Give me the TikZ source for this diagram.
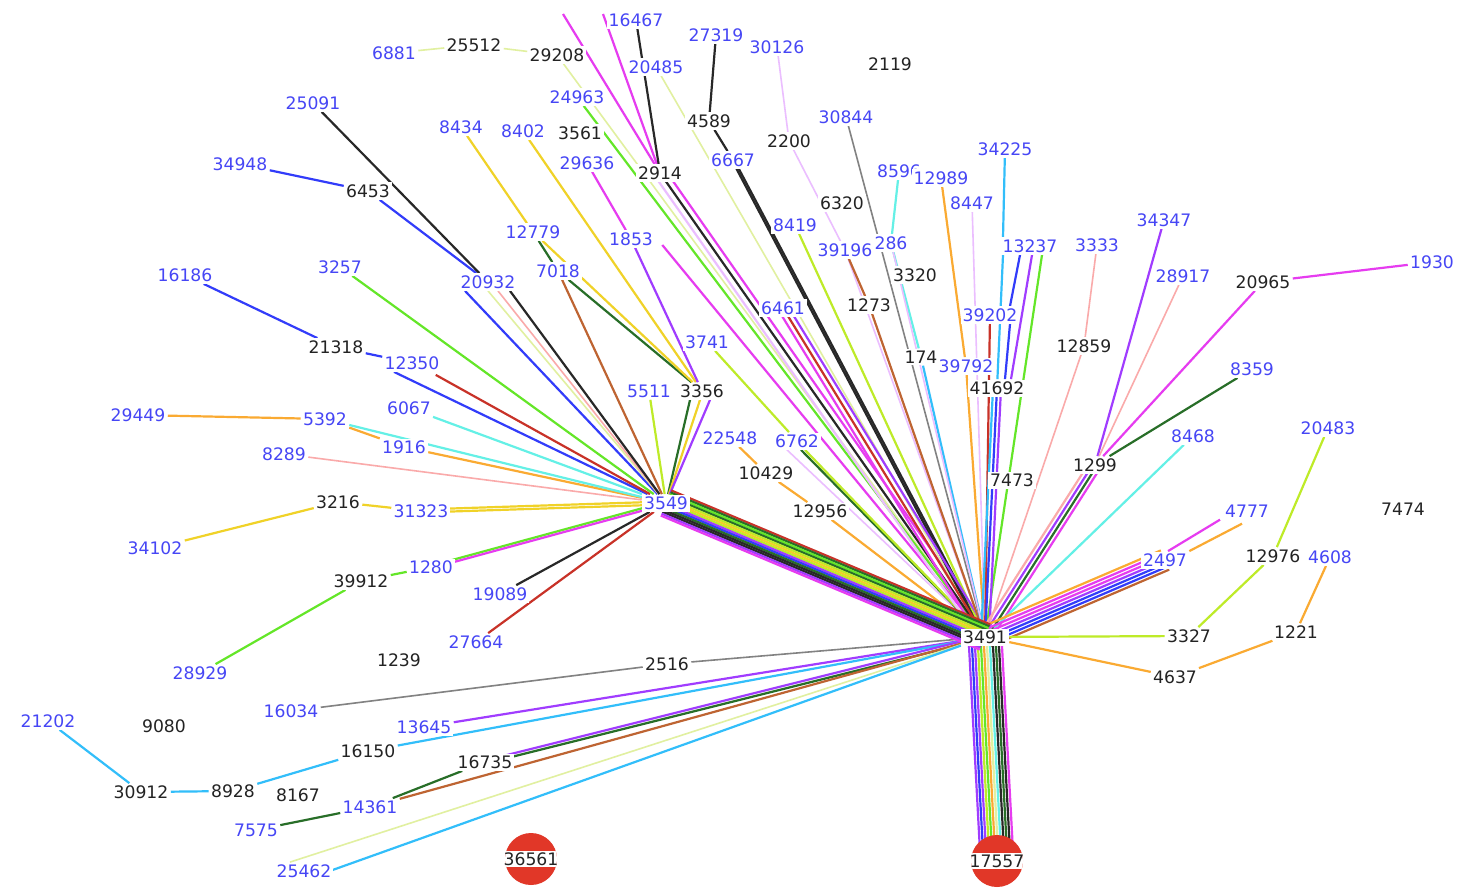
\documentclass[tikz,border=0pt]{standalone}
\usepackage{fontspec}
\setmainfont{DejaVu Sans}
\pgfdeclarelayer{back}
\pgfdeclarelayer{bg}
\pgfsetlayers{back,bg,main}
\definecolor{labB}{RGB}{70,70,245}
\definecolor{labK}{RGB}{35,35,35}
\definecolor{cMag}{RGB}{230,60,240}
\definecolor{cViolet}{RGB}{160,60,255}
\definecolor{cBlue}{RGB}{50,60,250}
\definecolor{cBlack}{RGB}{40,40,40}
\definecolor{cGray}{RGB}{130,130,130}
\definecolor{cGreen}{RGB}{100,230,40}
\definecolor{cDkGreen}{RGB}{40,110,40}
\definecolor{cChart}{RGB}{190,235,40}
\definecolor{cYellow}{RGB}{240,210,40}
\definecolor{cLtYel}{RGB}{225,240,160}
\definecolor{cOrange}{RGB}{250,170,50}
\definecolor{cBrown}{RGB}{190,100,50}
\definecolor{cRed}{RGB}{200,50,40}
\definecolor{cPink}{RGB}{250,170,170}
\definecolor{cAqua}{RGB}{100,240,230}
\definecolor{cSky}{RGB}{50,190,250}
\definecolor{cLtViolet}{RGB}{235,190,255}
\definecolor{cCirc}{RGB}{225,55,40}
\newcommand\lbf{\fontsize{8.6}{10}\selectfont}
\newcommand\bund[5]{%
  \foreach \cc [count=\nn] in {#5} {\xdef\bundn{\nn}}%
  \foreach \cc [count=\ii] in {#5} {%
    \pgfmathsetmacro\oo{\ii-(\bundn+1)/2}%
    \draw[ln,color=\cc,transform canvas={shift={({\oo*(#3)},{\oo*(#4)})}}] (#1) -- (#2);%
  }%
}
\begin{document}
\begin{tikzpicture}[x=0.5pt,y=-0.5pt,
  ln/.style={line width=1.1pt},
  lnt/.style={line width=0.8pt},
  lb/.style={fill=white,inner sep=1pt,text=labB,font=\lbf},
  lk/.style={fill=white,inner sep=1pt,text=labK,font=\lbf},
  redc/.style={circle,fill=cCirc,minimum size=26pt,inner sep=0pt}]
\useasboundingbox (0,0) rectangle (1459,888);
\begin{pgfonlayer}{back}
\fill[white] (0,0) rectangle (1459,888);
\end{pgfonlayer}
% nodes
\node[lb] (n16467) at (636,20) {16467};
\node[lb] (n27319) at (716,35) {27319};
\node[lb] (n30126) at (777,47) {30126};
\node[lk] (n2119) at (890,64) {2119};
\node[lb] (n6881) at (394,53) {6881};
\node[lk] (n25512) at (474,45) {25512};
\node[lk] (n29208) at (557,55) {29208};
\node[lb] (n20485) at (656,67) {20485};
\node[lb] (n25091) at (313,103) {25091};
\node[lb] (n24963) at (577,97) {24963};
\node[lk] (n4589) at (709,121) {4589};
\node[lb] (n30844) at (846,117) {30844};
\node[lb] (n8434) at (461,127) {8434};
\node[lb] (n8402) at (523,131) {8402};
\node[lk] (n3561) at (580,133) {3561};
\node[lk] (n2200) at (789,141) {2200};
\node[lb] (n34225) at (1005,149) {34225};
\node[lb] (n6667) at (733,160) {6667};
\node[lb] (n29636) at (587,163) {29636};
\node[lk] (n2914) at (660,173) {2914};
\node[lb] (n34948) at (240,164) {34948};
\node[lk] (n6453) at (368,191) {6453};
\node[lb] (n8596) at (899,171) {8596};
\node[lb] (n12989) at (941,178) {12989};
\node[lb] (n8447) at (972,203) {8447};
\node[lk] (n6320) at (842,203) {6320};
\node[lb] (n34347) at (1164,220) {34347};
\node[lb] (n8419) at (795,225) {8419};
\node[lb] (n12779) at (533,232) {12779};
\node[lb] (n1853) at (631,239) {1853};
\node[lb] (n39196) at (845,250) {39196};
\node[lb] (n286) at (891,243) {286};
\node[lb] (n13237) at (1030,246) {13237};
\node[lb] (n3333) at (1097,245) {3333};
\node[lb] (n1930) at (1432,262) {1930};
\node[lb] (n3257) at (340,267) {3257};
\node[lb] (n7018) at (558,271) {7018};
\node[lk] (n3320) at (915,275) {3320};
\node[lb] (n16186) at (185,275) {16186};
\node[lb] (n28917) at (1183,276) {28917};
\node[lk] (n20965) at (1263,282) {20965};
\node[lb] (n20932) at (488,282) {20932};
\node[lk] (n1273) at (869,305) {1273};
\node[lb] (n6461) at (783,308) {6461};
\node[lb] (n39202) at (990,315) {39202};
\node[lk] (n21318) at (336,347) {21318};
\node[lk] (n12859) at (1084,346) {12859};
\node[lb] (n3741) at (707,342) {3741};
\node[lk] (n174) at (921,357) {174};
\node[lb] (n39792) at (966,366) {39792};
\node[lb] (n8359) at (1252,369) {8359};
\node[lb] (n12350) at (412,363) {12350};
\node[lk] (n41692) at (997,388) {41692};
\node[lb] (n5511) at (649,391) {5511};
\node[lk] (n3356) at (702,391) {3356};
\node[lb] (n29449) at (138,415) {29449};
\node[lb] (n5392) at (325,419) {5392};
\node[lb] (n6067) at (409,408) {6067};
\node[lb] (n8289) at (284,454) {8289};
\node[lb] (n1916) at (404,447) {1916};
\node[lb] (n22548) at (730,438) {22548};
\node[lb] (n6762) at (797,441) {6762};
\node[lb] (n8468) at (1193,436) {8468};
\node[lb] (n20483) at (1328,428) {20483};
\node[lk] (n1299) at (1095,465) {1299};
\node[lk] (n10429) at (766,473) {10429};
\node[lk] (n7473) at (1012,480) {7473};
\node[lk] (n3216) at (338,502) {3216};
\node[lb] (n31323) at (421,511) {31323};
\node[lb] (n3549) at (666,503) {3549};
\node[lk] (n12956) at (820,511) {12956};
\node[lk] (n7474) at (1403,509) {7474};
\node[lb] (n4777) at (1247,511) {4777};
\node[lb] (n34102) at (155,548) {34102};
\node[lb] (n2497) at (1165,560) {2497};
\node[lk] (n12976) at (1273,556) {12976};
\node[lb] (n4608) at (1330,557) {4608};
\node[lk] (n39912) at (361,581) {39912};
\node[lb] (n1280) at (431,567) {1280};
\node[lb] (n19089) at (500,594) {19089};
\node[lk] (n3491) at (985,637) {3491};
\node[lk] (n3327) at (1189,636) {3327};
\node[lk] (n1221) at (1296,632) {1221};
\node[lb] (n27664) at (476,642) {27664};
\node[lk] (n1239) at (399,660) {1239};
\node[lk] (n2516) at (667,664) {2516};
\node[lk] (n4637) at (1175,677) {4637};
\node[lb] (n28929) at (200,673) {28929};
\node[lb] (n21202) at (48,721) {21202};
\node[lk] (n9080) at (164,726) {9080};
\node[lb] (n16034) at (291,711) {16034};
\node[lb] (n13645) at (424,727) {13645};
\node[lk] (n16150) at (368,751) {16150};
\node[lk] (n16735) at (485,762) {16735};
\node[lk] (n30912) at (141,792) {30912};
\node[lk] (n8928) at (233,791) {8928};
\node[lk] (n8167) at (298,795) {8167};
\node[lb] (n14361) at (370,807) {14361};
\node[lb] (n7575) at (256,830) {7575};
\node[lb] (n25462) at (304,871) {25462};
% red circles
\node[redc] (n36561) at (531,859) {};
\node[redc] (n17557) at (997,861) {};
\begin{scope}
\clip (n36561.center) circle (26);
\fill[white] ([shift={(-30,-8)}]n36561.center) rectangle ([shift={(30,8)}]n36561.center);
\end{scope}
\begin{scope}
\clip (n17557.center) circle (26);
\fill[white] ([shift={(-30,-8)}]n17557.center) rectangle ([shift={(30,8)}]n17557.center);
\end{scope}
\node[lk,fill=none] (n36561t) at (n36561.center) {36561};
\node[lk,fill=none] (n17557t) at (n17557.center) {17557};
\coordinate (tA) at (563,14);
\coordinate (tB) at (603,14);
% edges
\begin{pgfonlayer}{bg}
\draw[ln,cBlue] (n34948) -- (n6453);
\draw[ln,cBlue] (n6453) -- (n20932);
\draw[ln,cBlack] (n25091) -- (n20932);
\draw[ln,cBlue] ([shift={(-23,0)}]n20932.south) -- (n3549);
\draw[lnt,cLtYel] ([shift={(0,0)}]n20932.south) -- (n3549);
\draw[lnt,cPink] ([shift={(10,0)}]n20932.south) -- (n3549);
\draw[ln,cBlack] ([shift={(22,0)}]n20932.south) -- (n3549);
\draw[ln,cGreen] (n3257) -- (n3549);
\draw[ln,cBlue] (n16186) -- (n21318);
\draw[ln,cBlue] (n21318) -- (n12350);
\draw[ln,cBlue] ([shift={(-18,0)}]n12350.south) -- (n3549);
\draw[ln,cRed] ([shift={(-6,3)}]n12350.south east) -- (n3549);
\draw[ln,cAqua] (n6067) -- (n3549);
\draw[ln,cOrange] (n29449) -- (n5392);
\draw[ln,cOrange] (n5392) -- (n1916);
\draw[ln,cOrange] (n1916) -- (n3549);
\draw[ln,cAqua] (n5392) -- (n3549);
\draw[lnt,cPink] (n8289) -- (n3549);
\draw[ln,cYellow] (n34102) -- (n3216);
\draw[ln,cYellow] (n3216) -- (n31323);
\bund{n31323.center}{n3549.center}{0}{3}{cYellow,cYellow}
\draw[ln,cGreen] (n28929) -- (n39912);
\draw[ln,cGreen] (n39912) -- (n1280);
\bund{n1280.center}{n3549.center}{0}{2.5}{cGreen,cMag}
\draw[ln,cBlack] (n19089) -- (n3549);
\draw[ln,cRed] (n27664) -- (n3549);
\draw[ln,cBrown] (n7018) -- (n3549);
\draw[ln,cDkGreen] (n12779) -- (n7018);
\draw[ln,cDkGreen] (n7018) -- (n3356);
\draw[ln,cYellow] (n8434) -- (n12779);
\draw[ln,cYellow] (n12779) -- (n3356);
\draw[ln,cYellow] (n8402) -- (n3356);
\draw[ln,cViolet] (n1853) -- (n3356);
\draw[ln,cDkGreen] ([shift={(-12,0)}]n3356.south) -- (n3549);
\draw[ln,cYellow] ([shift={(-2,0)}]n3356.south) -- (n3549);
\draw[ln,cViolet] ([shift={(8,0)}]n3356.south) -- (n3549);
\draw[ln,cChart] (n5511) -- (n3549);
\draw[ln,cMag] (n29636) -- (n1853);
\draw[ln,cMag] ([shift={(7,6)}]n1853.east) -- (n3491);
\draw[ln,cChart] (n3741) -- (n6762);
\draw[lnt,cLtViolet] ([shift={(-10,0)}]n6762.south) -- (n3491);
\draw[ln,cDkGreen] ([shift={(4,0)}]n6762.south) -- (n3491);
\draw[ln,cChart] ([shift={(8,0)}]n6762.south) -- (n3491);
\draw[ln,cOrange] (n22548) -- (n10429);
\draw[ln,cOrange] (n10429) -- (n12956);
\draw[ln,cOrange] (n12956) -- (n3491);
% top
\draw[lnt,cLtYel] (n6881) -- (n25512);
\draw[lnt,cLtYel] (n25512) -- (n29208);
\draw[lnt,cLtYel] (n29208) -- (n3491);
\draw[ln,cGreen] (n24963) -- (n3491);
\draw[ln,cMag] (tA) -- (n2914);
\draw[ln,cMag] (tB) -- (n2914);
\draw[ln,cBlack] (n16467) -- (n2914);
\bund{n2914.center}{n3491.center}{4.9}{-3.4}{cLtViolet,cBlack,cMag}
\draw[lnt,cLtYel] (n20485) -- (n3491);
\draw[ln,cBlack] (n27319) -- (n4589);
\draw[ln,cBlack] (n4589) -- (n6667);
\bund{n6667.center}{n3491.center}{1.8}{-0.95}{cBlack,cBlack}
\draw[ln,cChart] (n8419) -- (n3491);
\bund{n6461.center}{n3491.center}{4.3}{-2.6}{cMag,cRed,cViolet}
\draw[lnt,cLtViolet] (n30126) -- (n2200);
\draw[lnt,cLtViolet] (n2200) -- (n39196);
\draw[lnt,cLtViolet] (n39196) -- (n3491);
\draw[ln,cBrown] (n39196) -- (n1273);
\draw[ln,cBrown] (n1273) -- (n3491);
\draw[lnt,cGray] (n30844) -- (n3491);
\draw[ln,cAqua] (n8596) -- (n286);
\draw[ln,cAqua] (n286) -- (n174);
\draw[ln,cSky] (n174) -- (n3491);
\draw[lnt,cLtViolet] (n286) -- (n3491);
\draw[ln,cOrange] (n12989) -- (n39792);
\draw[ln,cOrange] (n39792) -- (n3491);
\draw[lnt,cLtViolet] (n8447) -- (n3491);
\draw[ln,cSky] (n34225) -- ([shift={(-27,0)}]n13237.north);
\draw[ln,cSky] ([shift={(-27,0)}]n13237.south) -- (n41692);
\draw[ln,cBlue] ([shift={(-10,0)}]n13237.south) -- ([shift={(20,0)}]n39202.north);
\draw[ln,cBlue] ([shift={(20,0)}]n39202.south) -- ([shift={(8,0)}]n41692.north);
\draw[ln,cViolet] ([shift={(2,0)}]n13237.south) -- ([shift={(14,0)}]n41692.north);
\draw[ln,cGreen] ([shift={(12,0)}]n13237.south) -- (n3491);
\draw[ln,cRed] (n39202) -- (n3491);
\bund{n41692.center}{n3491.center}{4}{0}{cSky,cBlue,cViolet}
% right
\draw[lnt,cPink] (n3333) -- (n12859);
\draw[lnt,cPink] (n12859) -- (n3491);
\draw[ln,cViolet] (n34347) -- (n1299);
\draw[lnt,cPink] (n28917) -- (n1299);
\draw[ln,cMag] (n1930) -- (n20965);
\draw[ln,cMag] (n20965) -- (n1299);
\draw[ln,cDkGreen] (n8359) -- (n1299);
\bund{n1299.center}{n3491.center}{3.4}{2.2}{cPink,cViolet,cDkGreen,cMag}
\draw[ln,cAqua] (n8468) -- (n3491);
\draw[ln,cMag] ([shift={(-27,0)}]n4777.south) -- ([shift={(3,0)}]n2497.north);
\draw[ln,cOrange] ([shift={(-5,4)}]n4777.south) -- (n2497.north east);
\bund{n2497.center}{n3491.center}{1.4}{3.2}{cOrange,cMag,cMag,cViolet,cBlue,cBlue,cBrown}
\draw[ln,cChart] (n20483) -- (n12976);
\draw[ln,cChart] (n12976) -- (n3327);
\draw[ln,cChart] (n3327) -- (n3491);
\draw[ln,cOrange] (n3491) -- (n4637);
\draw[ln,cOrange] (n4637) -- (n1221);
\draw[ln,cOrange] (n1221) -- (n4608);
% bottom
\draw[lnt,cGray] (n3491) -- (n2516);
\draw[lnt,cGray] (n2516) -- (n16034);
\draw[ln,cViolet] (n3491) -- (n13645);
\draw[ln,cSky] (n3491) -- (n16150);
\draw[ln,cSky] (n16150) -- (n8928);
\draw[ln,cSky] (n8928) -- (n30912);
\draw[ln,cSky] (n30912) -- (n21202);
\bund{n16735.center}{n3491.center}{0.73}{2.9}{cViolet,cDkGreen}
\draw[ln,cDkGreen] (n16735) -- (n14361);
\draw[ln,cDkGreen] (n14361) -- (n7575);
\draw[ln,cBrown] (n14361) -- (n3491);
\draw[lnt,cLtYel] ([shift={(-14,0)}]n25462.north) -- (n3491);
\draw[ln,cSky] ([shift={(-4,0)}]n25462.east) -- (n3491);
\bund{n3491.center}{n17557.center}{3}{0}{cViolet,cBlue,cViolet,cChart,cGreen,cOrange,cLtYel,cAqua,cBlack,cDkGreen,cBlack,cMag}
\bund{n3549.center}{n3491.center}{-0.81}{1.93}{cRed,cDkGreen,cGreen,cDkGreen,cChart,cYellow,cChart,cViolet,cBlue,cDkGreen,cBlack,cBlack,cViolet,cMag}
\end{pgfonlayer}
\end{tikzpicture}
\end{document}
